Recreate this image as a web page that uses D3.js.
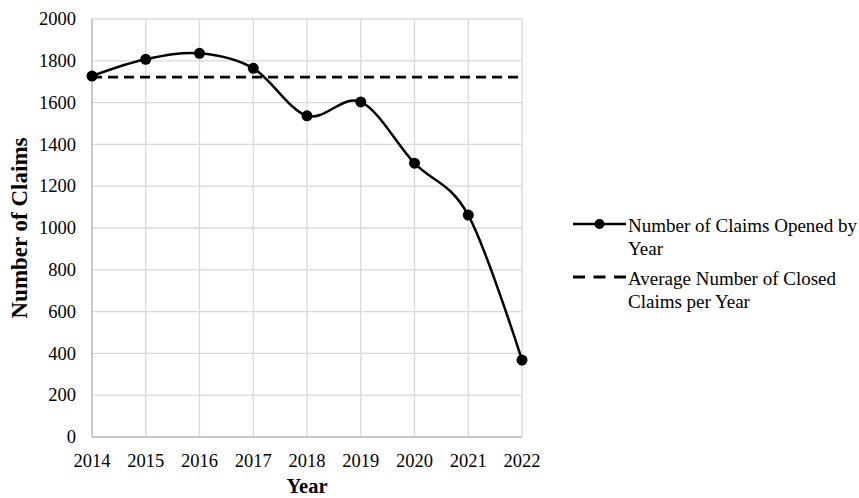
<!DOCTYPE html>
<html>
<head>
<meta charset="utf-8">
<script src="https://cdn.jsdelivr.net/npm/d3@7"></script>
<style>
  html, body { margin: 0; padding: 0; background: #fff; }
  svg { display: block; }
</style>
</head>
<body>
<svg id="chart" width="859" height="498"></svg>
<script>
// Claims opened per year, plus the yearly average of closed claims
const years = [2014, 2015, 2016, 2017, 2018, 2019, 2020, 2021, 2022];
const openedClaims = [1727, 1807, 1836, 1764, 1537, 1603, 1310, 1062, 368];
const avgClosedClaims = 1722;
const yTicks = [0, 200, 400, 600, 800, 1000, 1200, 1400, 1600, 1800, 2000];
const legendLines = [
  ["Number of Claims Opened by", "Year"],
  ["Average Number of Closed", "Claims per Year"]
];

const FONT = "'Liberation Serif', 'Times New Roman', Times, serif";
const svg = d3.select("#chart").attr("font-family", FONT);
const margin = { left: 92, right: 337, top: 19, bottom: 61 };
const W = 859, H = 498;

const x = d3.scaleLinear().domain([2014, 2022]).range([margin.left, W - margin.right]);
const y = d3.scaleLinear().domain([0, 2000]).range([H - margin.bottom, margin.top]);

// Gridlines
svg.append("g").selectAll("line").data(yTicks).join("line")
  .attr("x1", x(2014)).attr("x2", x(2022))
  .attr("y1", d => y(d)).attr("y2", d => y(d))
  .attr("stroke", "#d9d9d9").attr("stroke-width", 1.3);
svg.append("g").selectAll("line").data(years).join("line")
  .attr("x1", d => x(d)).attr("x2", d => x(d))
  .attr("y1", y(0)).attr("y2", y(2000))
  .attr("stroke", "#d9d9d9").attr("stroke-width", 1.3);

// Axis lines
svg.append("line").attr("x1", x(2014)).attr("x2", x(2014)).attr("y1", y(0)).attr("y2", y(2000))
  .attr("stroke", "#bfbfbf").attr("stroke-width", 1.5);
svg.append("line").attr("x1", x(2014)).attr("x2", x(2022)).attr("y1", y(0)).attr("y2", y(0))
  .attr("stroke", "#bfbfbf").attr("stroke-width", 1.5);

// Tick labels
svg.append("g").selectAll("text").data(yTicks).join("text")
  .attr("x", 76).attr("y", d => y(d)).attr("dy", "0.34em")
  .attr("text-anchor", "end").attr("font-size", 18.5).attr("fill", "#000")
  .text(d => d);
svg.append("g").selectAll("text").data(years).join("text")
  .attr("x", d => x(d)).attr("y", 467)
  .attr("text-anchor", "middle").attr("font-size", 18.5).attr("fill", "#000")
  .text(d => d);

// Axis titles
svg.append("text").attr("x", x(2018)).attr("y", 493)
  .attr("text-anchor", "middle").attr("font-size", 20.5).attr("font-weight", "bold")
  .text("Year");
svg.append("text").attr("transform", "translate(27, 228) rotate(-90)")
  .attr("text-anchor", "middle").attr("font-size", 23).attr("font-weight", "bold")
  .text("Number of Claims");

// Average line
svg.append("line")
  .attr("x1", x(2014)).attr("x2", x(2022))
  .attr("y1", y(avgClosedClaims)).attr("y2", y(avgClosedClaims))
  .attr("stroke", "#000").attr("stroke-width", 2.8).attr("stroke-dasharray", "10,6");

// Opened claims smoothed line
const pts = years.map((yr, i) => [yr, openedClaims[i]]);
const line = d3.line().x(d => x(d[0])).y(d => y(d[1])).curve(d3.curveCardinal.tension(0));
svg.append("path").datum(pts).attr("d", line)
  .attr("fill", "none").attr("stroke", "#000").attr("stroke-width", 2.5);
svg.append("g").selectAll("circle").data(pts).join("circle")
  .attr("cx", d => x(d[0])).attr("cy", d => y(d[1])).attr("r", 5.5).attr("fill", "#000");

// Legend
const lg = svg.append("g");
lg.append("line").attr("x1", 573).attr("x2", 626).attr("y1", 224).attr("y2", 224)
  .attr("stroke", "#000").attr("stroke-width", 2.5);
lg.append("circle").attr("cx", 599.5).attr("cy", 224).attr("r", 5).attr("fill", "#000");
lg.append("line").attr("x1", 573).attr("x2", 626).attr("y1", 277).attr("y2", 277)
  .attr("stroke", "#000").attr("stroke-width", 2.8).attr("stroke-dasharray", "12,8.5");
const baselines = [[232, 255], [285, 308]];
legendLines.forEach((lines, i) => {
  lines.forEach((t, j) => {
    lg.append("text").attr("x", 628).attr("y", baselines[i][j])
      .attr("font-size", 19).attr("fill", "#000").text(t);
  });
});
</script>
</body>
</html>
